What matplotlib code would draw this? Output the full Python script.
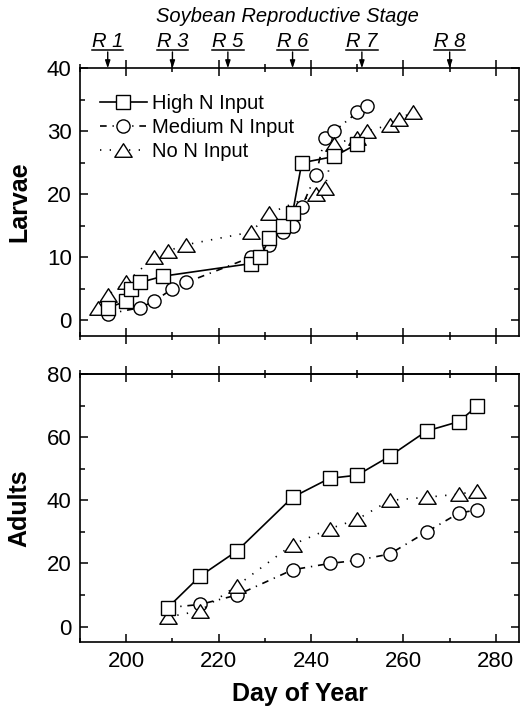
import numpy as np
import matplotlib
matplotlib.use("Agg")
import matplotlib.pyplot as plt
from matplotlib.lines import Line2D
from matplotlib.path import Path

plt.rcParams['font.family'] = ['Liberation Sans', 'DejaVu Sans']

# ---- data ----
# Larvae (top panel)
high_larvae_day = [196, 200, 201, 203, 208, 227, 229, 231, 234, 236, 238, 245, 250]
high_larvae = [2, 3, 5, 6, 7, 9, 10, 13, 15, 17, 25, 26, 28]

med_larvae_day = [196, 203, 206, 210, 213, 227, 231, 234, 236, 238, 241, 243, 245, 250, 252]
med_larvae = [1, 2, 3, 5, 6, 10, 12, 14, 15, 18, 23, 29, 30, 33, 34]

no_larvae_day = [194, 196, 200, 206, 209, 213, 227, 231, 241, 243, 245, 250, 252, 257, 259, 262]
no_larvae = [2, 4, 6, 10, 11, 12, 14, 17, 20, 21, 28, 29, 30, 31, 32, 33]

# Adults (bottom panel)
adult_day = [209, 216, 224, 236, 244, 250, 257, 265, 272, 276]
high_adults = [6, 16, 24, 41, 47, 48, 54, 62, 65, 70]
med_adults = [6, 7, 10, 18, 20, 21, 23, 30, 36, 37]
no_adults = [3, 5, 13, 26, 31, 34, 40, 41, 42, 43]

stage_days = [196, 210, 222, 236, 251, 270]
stage_labels = ['R 1', 'R 3', 'R 5', 'R 6', 'R 7', 'R 8']

series_names = ['High N Input', 'Medium N Input', 'No N Input']

# ---- styles ----
# wide, slightly flattened open triangle like the original
tri = Path([(-1, -0.78), (1, -0.78), (0, 0.78), (-1, -0.78)], closed=True)
styles = {
    'High N Input': dict(ls='-', marker='s', ms=9.5),
    'Medium N Input': dict(ls=(0, (4, 3.5, 0.8, 3.5)), marker='o', ms=9.5),
    'No N Input': dict(ls=(0, (0.8, 5)), marker=tri, ms=12.5),
}
common = dict(color='black', lw=1.2, mfc='white', mec='black', mew=1.0)

fig = plt.figure(figsize=(5.2, 7.13), dpi=100)
W, H = 520, 713
ax1 = fig.add_axes([80 / W, 1 - 336 / H, 439 / W, 267.7 / H])
ax2 = fig.add_axes([80 / W, 1 - 642.3 / H, 439 / W, 268 / H])

larvae = {'High N Input': (high_larvae_day, high_larvae),
          'Medium N Input': (med_larvae_day, med_larvae),
          'No N Input': (no_larvae_day, no_larvae)}
adults = {'High N Input': (adult_day, high_adults),
          'Medium N Input': (adult_day, med_adults),
          'No N Input': (adult_day, no_adults)}

handles = {}
for ax, data in [(ax1, larvae), (ax2, adults)]:
    # circles first, then triangles, squares on top
    for z, name in zip([2, 3, 4], ['Medium N Input', 'No N Input', 'High N Input']):
        x, y = data[name]
        ln, = ax.plot(x, y, zorder=z, label=name, **styles[name], **common)
        handles[name] = ln

for ax in (ax1, ax2):
    ax.set_xlim(190, 285)
    ax.set_xticks(np.arange(200, 281, 20))
    ax.set_xticks(np.arange(190, 286, 10), minor=True)
    for s in ax.spines.values():
        s.set_linewidth(1.2)
    ax.tick_params(axis='y', which='both', direction='in', left=True, right=True,
                   labelsize=16, pad=6, width=1.1)
    ax.tick_params(axis='y', which='major', length=5.8)
    ax.tick_params(axis='y', which='minor', length=3.5)

ax1.set_ylim(-2.5, 40)
ax1.set_yticks(np.arange(0, 41, 10))
ax1.set_yticks(np.arange(0, 41, 5), minor=True)
ax1.tick_params(axis='x', which='both', direction='inout', top=True, bottom=True,
                labelbottom=False, width=1.1)
ax1.tick_params(axis='x', which='major', length=11.3)
ax1.tick_params(axis='x', which='minor', length=5.8)

ax2.set_ylim(-5, 80)
ax2.set_yticks(np.arange(0, 81, 20))
ax2.set_yticks(np.arange(0, 81, 10), minor=True)
ax2.tick_params(axis='x', which='both', direction='in', top=False, bottom=True,
                labelsize=16, pad=6, width=1.1)
ax2.tick_params(axis='x', which='major', length=5.8)
ax2.tick_params(axis='x', which='minor', length=2.8)
sec = ax2.secondary_xaxis('top')
sec.set_xticks(np.arange(200, 281, 20))
sec.set_xticks(np.arange(190, 286, 10), minor=True)
sec.tick_params(axis='x', which='both', direction='inout', labeltop=False, width=1.1)
sec.tick_params(axis='x', which='major', length=11.3)
sec.tick_params(axis='x', which='minor', length=5.8)
sec.spines['top'].set_linewidth(1.2)

ax1.set_ylabel('Larvae', fontsize=18, fontweight='bold')
ax1.yaxis.set_label_coords(-0.11, 0.5)
ax2.set_ylabel('Adults', fontsize=18, fontweight='bold')
ax2.yaxis.set_label_coords(-0.11, 0.5)
ax2.set_xlabel('Day of Year', fontsize=18, fontweight='bold')
ax2.xaxis.set_label_coords(0.5, -0.148)

ax1.legend([handles[n] for n in series_names], series_names, loc='upper left',
           bbox_to_anchor=(0.046, 0.905), frameon=False, fontsize=14.5,
           borderpad=0, borderaxespad=0, handlelength=2.3, handletextpad=0.25,
           labelspacing=0.25)

# reproductive stage markers above the top panel
fig.text(287 / W, 1 - 16 / H, 'Soybean Reproductive Stage', fontsize=14.5,
         style='italic', ha='center', va='center')
stage_texts = []
for d, lab in zip(stage_days, stage_labels):
    ax1.annotate('', xy=(d, 1.0), xytext=(d, 1.061),
                 xycoords=('data', 'axes fraction'),
                 arrowprops=dict(arrowstyle='-|>,head_length=0.45,head_width=0.15',
                                 color='black', lw=1.0, shrinkA=0, shrinkB=0))
    t = ax1.text(d, 1.078, lab, transform=ax1.get_xaxis_transform(),
                 fontsize=14.5, style='italic', ha='center', va='baseline')
    stage_texts.append(t)

# underline the stage labels
fig.canvas.draw()
renderer = fig.canvas.get_renderer()
for t in stage_texts:
    bb = t.get_window_extent(renderer)
    yline = bb.y0 + 1
    fig.add_artist(Line2D([bb.x0 / W, bb.x1 / W], [yline / H, yline / H],
                          transform=fig.transFigure, color='black', lw=1.1))

fig.savefig('out.png', dpi=100)
